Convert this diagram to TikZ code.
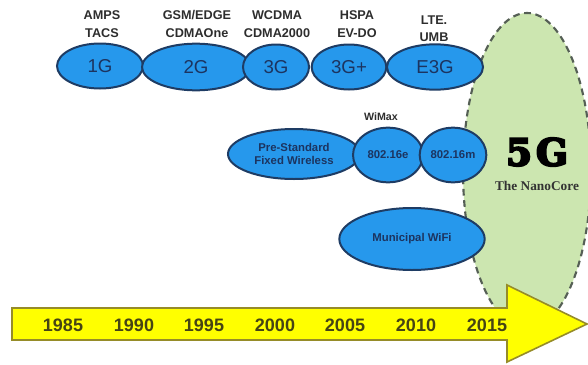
\documentclass[tikz,border=0pt]{standalone}
\usepackage{fontspec}
\setmainfont{Liberation Sans}
\newfontfamily\serifbig{DejaVu Serif}
\newfontfamily\serifsmall{Liberation Serif}
\usetikzlibrary{shapes.geometric}
\definecolor{ellfill}{RGB}{38,152,236}
\definecolor{elldraw}{RGB}{30,60,100}
\definecolor{elltext}{RGB}{28,52,96}
\definecolor{labtext}{RGB}{45,45,45}
\definecolor{greenfill}{RGB}{204,230,176}
\definecolor{greendash}{RGB}{85,95,85}
\definecolor{arrowfill}{RGB}{255,255,0}
\definecolor{arrowdraw}{RGB}{150,140,40}
\definecolor{yeartext}{RGB}{70,68,20}
\tikzset{
  gen/.style={ellipse, fill=ellfill, draw=elldraw, line width=1.5pt, inner sep=0pt,
    text=elltext, font=\fontsize{14}{16}\selectfont},
  small/.style={ellipse, fill=ellfill, draw=elldraw, line width=1.5pt, inner sep=0pt,
    text=elltext, font=\bfseries\fontsize{8.5}{10}\selectfont, align=center},
  toplab/.style={text=labtext, font=\bfseries\fontsize{9.5}{13}\selectfont, align=center, inner sep=0pt},
  year/.style={text=yeartext, font=\bfseries\fontsize{13.5}{15}\selectfont, inner sep=0pt}
}
\begin{document}
\begin{tikzpicture}[x=0.75pt,y=-0.75pt]
\useasboundingbox (0,0) rectangle (588,364);
% 5G region
\draw[fill=greenfill, draw=greendash, dashed, dash pattern=on 5pt off 3.5pt, line width=1.6pt]
  (527,171) ellipse [x radius=64, y radius=158];
% top row
\node[gen, minimum width=64.5pt, minimum height=33.75pt] (g1) at (100,66) {1G};
\node[gen, minimum width=81pt, minimum height=35pt] (g2) at (196,67) {2G};
\node[gen, minimum width=49.5pt, minimum height=33.75pt] (g3) at (276,67) {3G};
\node[gen, minimum width=56pt, minimum height=33.75pt] (g3p) at (349,67) {3G+};
\node[gen, minimum width=72pt, minimum height=34pt] (e3g) at (435,67) {E3G};
% top labels
\node[toplab] (l1) at (102,24) {AMPS\\TACS};
\node[toplab] (l2) at (197,24) {GSM/EDGE\\CDMAOne};
\node[toplab] (l3) at (277,24) {WCDMA\\CDMA2000};
\node[toplab] (l4) at (357,24) {HSPA\\EV-DO};
\node[toplab] (l5) at (434,29) {LTE.\\UMB};
% second row
\node[toplab, font=\bfseries\fontsize{8}{10}\selectfont] (wimax) at (381,117) {WiMax};
\node[small, minimum width=99pt, minimum height=37.5pt] (pre) at (294,154) {Pre-Standard\\Fixed Wireless};
\node[small, minimum width=52.5pt, minimum height=41pt] (e16) at (388,155) {802.16e};
\node[small, minimum width=50pt, minimum height=41pt] (m16) at (453,155) {802.16m};
\node[small, minimum width=109pt, minimum height=46.5pt] (muni) at (412,239) {Municipal WiFi};
% 5G text
\node[inner sep=0pt, font=\serifbig\bfseries\fontsize{28}{32}\selectfont] (fiveg) at (537,152)
  {\special{pdf:code 2 Tr 1.6 w}5\hspace{3pt}G\special{pdf:code 0 Tr 0.4 w}};
\node[inner sep=0pt, text=black!80, font=\serifsmall\bfseries\fontsize{10}{12}\selectfont] (nano) at (537,186) {The NanoCore};
% timeline arrow
\draw[fill=arrowfill, draw=arrowdraw, line width=1.2pt, line join=miter]
  (12,308) -- (507,308) -- (507,285) -- (587,324) -- (507,362) -- (507,340) -- (12,340) -- cycle;
\node[year] (y1) at (63,325) {1985};
\node[year] (y2) at (134,325) {1990};
\node[year] (y3) at (204,325) {1995};
\node[year] (y4) at (275,325) {2000};
\node[year] (y5) at (345,325) {2005};
\node[year] (y6) at (416,325) {2010};
\node[year] (y7) at (487,325) {2015};
\end{tikzpicture}
\end{document}
